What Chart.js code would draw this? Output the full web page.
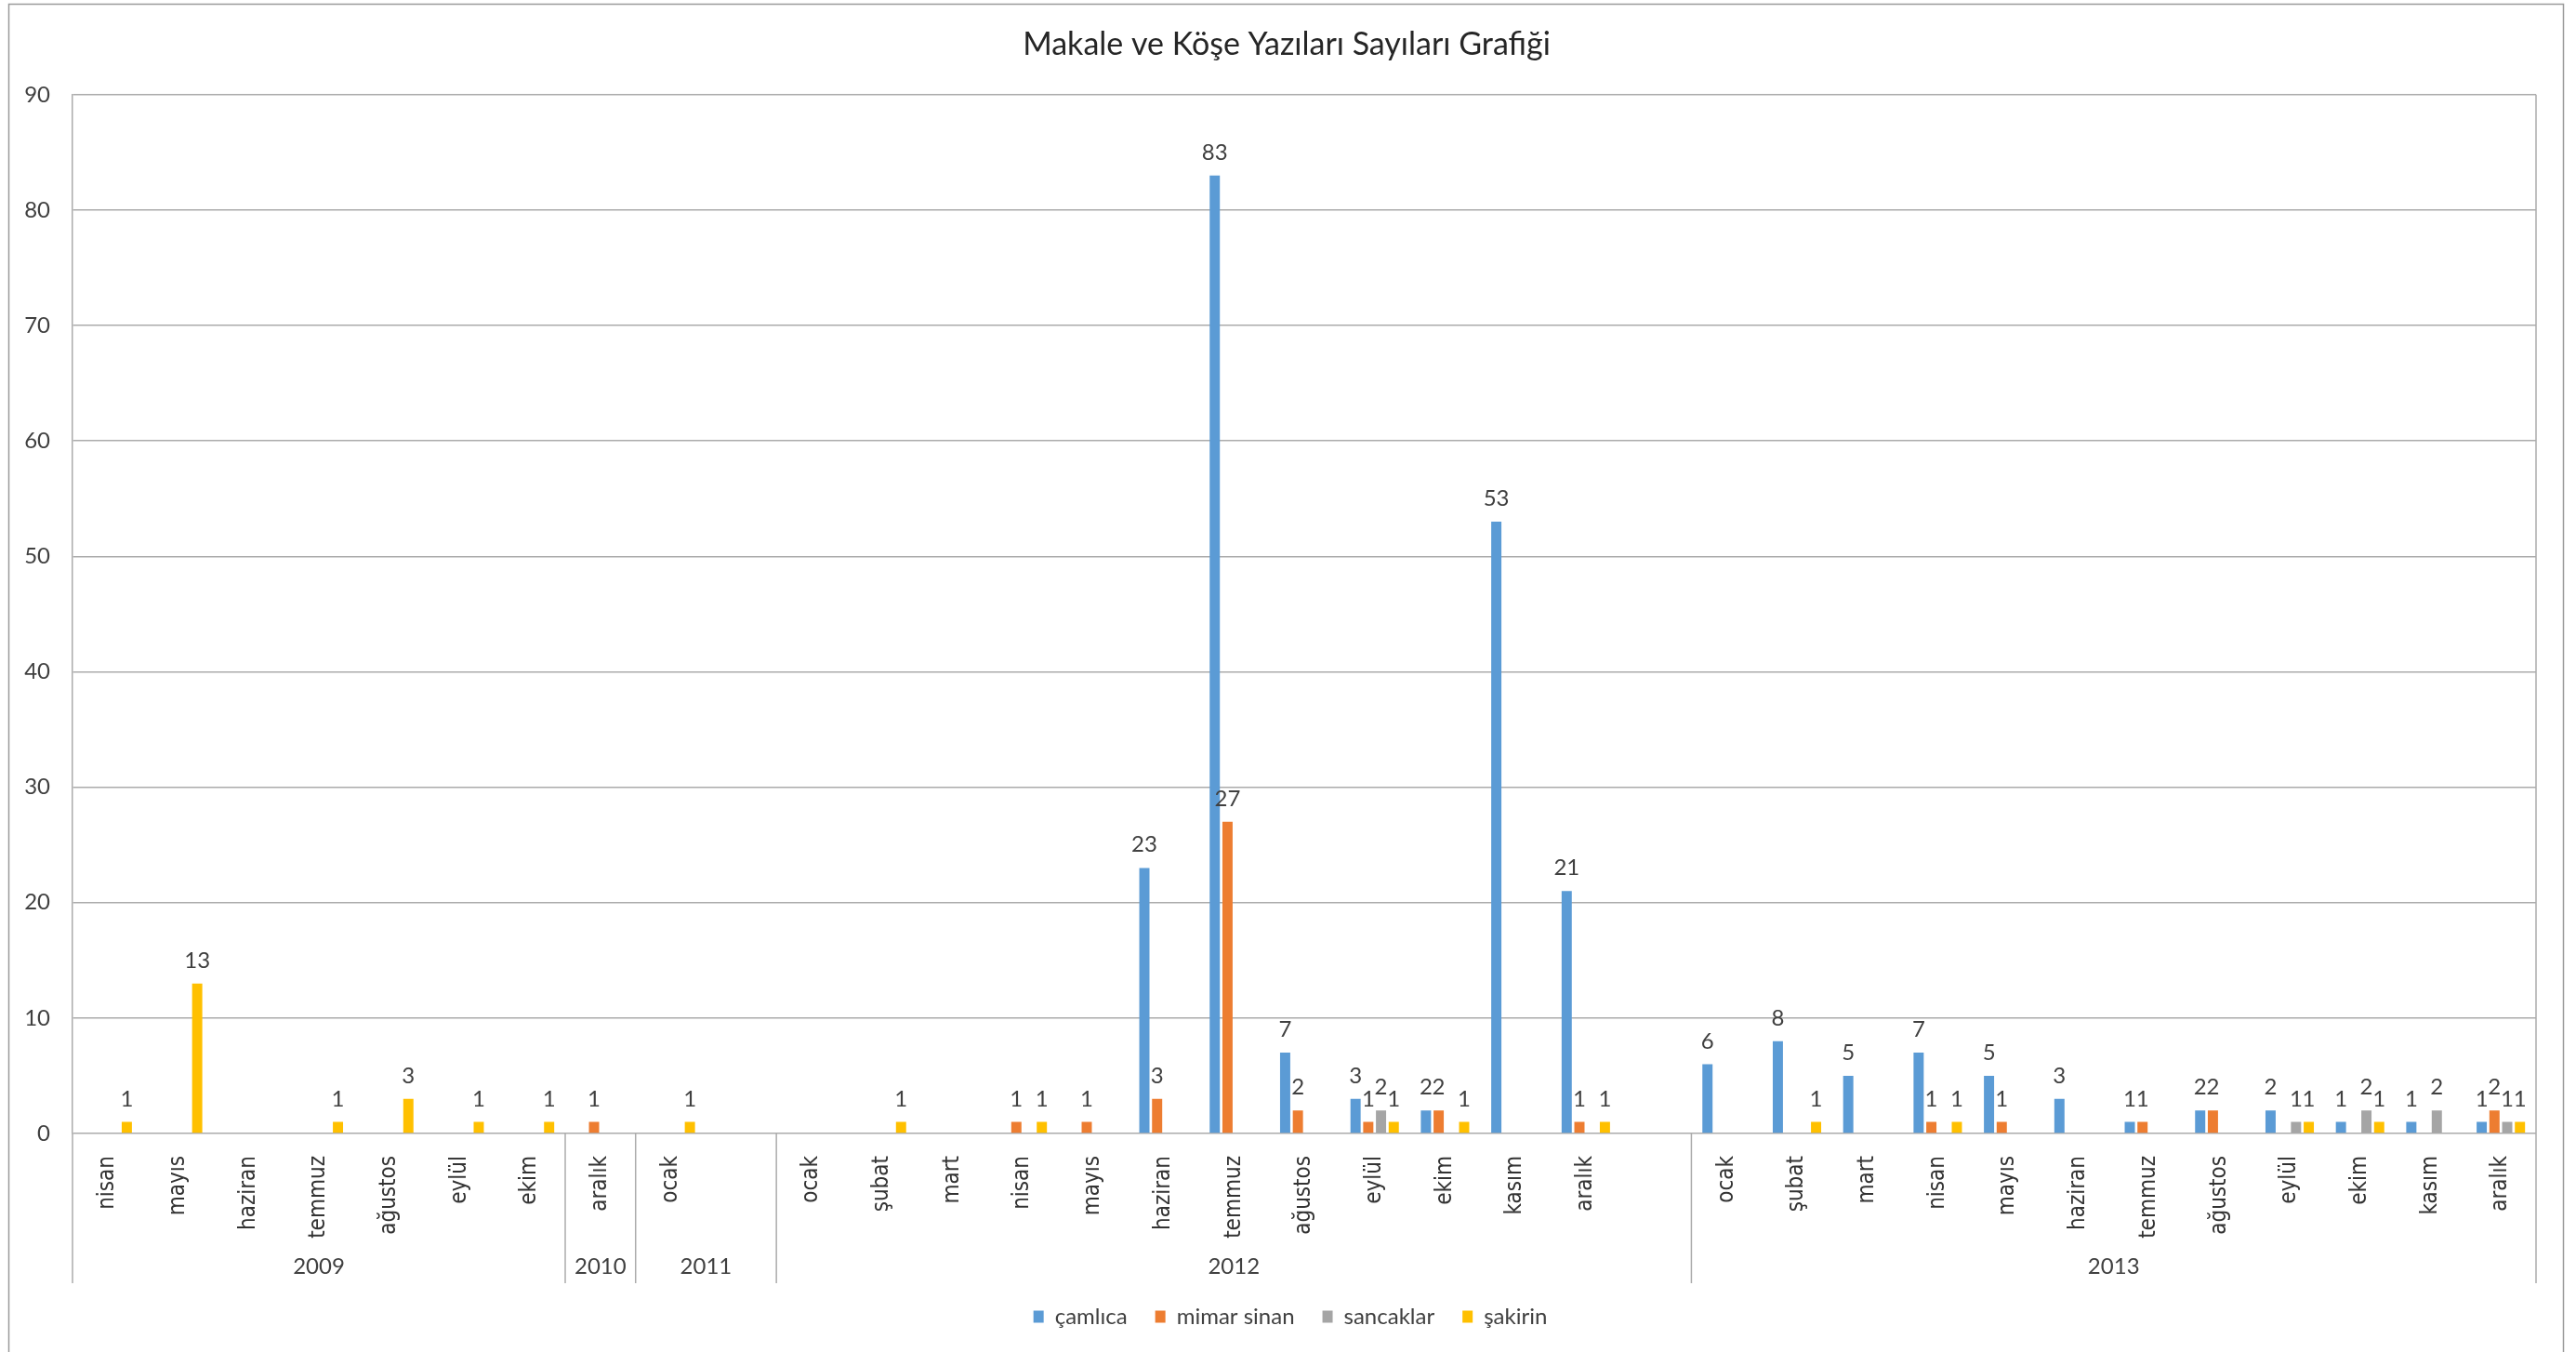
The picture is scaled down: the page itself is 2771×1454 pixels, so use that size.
<!DOCTYPE html>
<html>
<head>
<meta charset="utf-8">
<title>Makale ve Köşe Yazıları Sayıları Grafiği</title>
<script src="https://cdn.jsdelivr.net/npm/chart.js@4.4.1/dist/chart.umd.min.js"></script>
<style>
  html, body { margin: 0; padding: 0; background: #fff; }
</style>
</head>
<body>
<canvas id="makaleChart" width="2771" height="1454"></canvas>
<script>
// month labels, one per category (two empty slots as in the sheet)
const months = [
  'nisan', 'mayıs', 'haziran', 'temmuz', 'ağustos', 'eylül', 'ekim',
  'aralık',
  'ocak', '',
  'ocak', 'şubat', 'mart', 'nisan', 'mayıs', 'haziran', 'temmuz', 'ağustos', 'eylül', 'ekim', 'kasım', 'aralık', '',
  'ocak', 'şubat', 'mart', 'nisan', 'mayıs', 'haziran', 'temmuz', 'ağustos', 'eylül', 'ekim', 'kasım', 'aralık'
]
const years = ['2009', '2010', '2011', '2012', '2013']
const yearSizes = [7, 1, 2, 13, 12]

const camlica = [
  null, null, null, null, null, null, null,
  null,
  null, null,
  null, null, null, null, null, 23, 83, 7, 3, 2, 53, 21, null,
  6, 8, 5, 7, 5, 3, 1, 2, 2, 1, 1, 1
]
const mimarSinan = [
  null, null, null, null, null, null, null,
  1,
  null, null,
  null, null, null, 1, 1, 3, 27, 2, 1, 2, null, 1, null,
  null, null, null, 1, 1, null, 1, 2, null, null, null, 2
]
const sancaklar = [
  null, null, null, null, null, null, null,
  null,
  null, null,
  null, null, null, null, null, null, null, null, 2, null, null, null, null,
  null, null, null, null, null, null, null, null, 1, 2, 2, 1
]
const sakirin = [
  1, 13, null, 1, 3, 1, 1,
  null,
  1, null,
  null, 1, null, 1, null, null, null, null, 1, 1, null, 1, null,
  null, 1, null, 1, null, null, null, null, 1, 1, null, 1
]

const seriesNames = ['çamlıca', 'mimar sinan', 'sancaklar', 'şakirin']
const seriesColors = ['#5B9BD5', '#ED7D31', '#A5A5A5', '#FFC000']
const yTicks = [0, 90, 10]  // min, max, step

const gridColor = '#ababab'
const textColor = '#404040'

const frame = {
  id: 'frame',
  beforeDraw(chart) {
    const ctx = chart.ctx
    ctx.save()
    ctx.fillStyle = '#ffffff'
    ctx.fillRect(0, 0, chart.width, chart.height)
    ctx.strokeStyle = '#9a9a9a'
    ctx.lineWidth = 1.5
    ctx.strokeRect(9.5, 4.5, 2748, 1500)
    ctx.restore()
  },
  afterLayout(chart) {
    // title and legend sit a bit right of centre in the original
    chart.legend.left += 24
    chart.legend.right += 24
    chart.titleBlock.left += 20
    chart.titleBlock.right += 20
  }
}

// second row of the category axis: year names with divider lines
const yearAxis = {
  id: 'yearAxis',
  afterDraw(chart) {
    const x = chart.scales.x
    const area = chart.chartArea
    const ctx = chart.ctx
    const step = (x.right - x.left) / months.length
    const lineBottom = area.bottom + 161

    ctx.save()
    ctx.strokeStyle = gridColor
    ctx.lineWidth = 1.5
    ctx.font = '24px Lato'
    ctx.fillStyle = textColor
    ctx.textAlign = 'center'
    ctx.textBaseline = 'middle'

    ctx.beginPath()
    ctx.moveTo(x.left, area.bottom)
    ctx.lineTo(x.left, lineBottom)
    ctx.stroke()

    let start = 0
    years.forEach(function(year, k) {
      const end = start + yearSizes[k]
      const xe = x.left + end * step
      const top = (k === years.length - 1) ? area.top : area.bottom
      ctx.beginPath()
      ctx.moveTo(xe, top)
      ctx.lineTo(xe, lineBottom)
      ctx.stroke()
      ctx.fillText(year, x.left + (start + end) / 2 * step, area.bottom + 143)
      start = end
    })
    ctx.restore()
  }
}

const valueLabels = {
  id: 'valueLabels',
  afterDatasetsDraw(chart) {
    const ctx = chart.ctx
    ctx.save()
    ctx.font = '24px Lato'
    ctx.fillStyle = textColor
    ctx.textAlign = 'center'
    ctx.textBaseline = 'alphabetic'
    chart.data.datasets.forEach(function(ds, i) {
      chart.getDatasetMeta(i).data.forEach(function(bar, j) {
        const v = ds.data[j]
        if (v === null) return
        ctx.fillText(String(v), bar.x, bar.y - 17)
      })
    })
    ctx.restore()
  }
}

const seriesData = [camlica, mimarSinan, sancaklar, sakirin]

new Chart(document.getElementById('makaleChart'), {
  type: 'bar',
  data: {
    labels: months,
    datasets: seriesData.map(function(values, i) {
      return {
        label: seriesNames[i],
        data: values,
        backgroundColor: seriesColors[i],
        borderWidth: 0,
        categoryPercentage: 0.724,
        barPercentage: 0.8
      }
    })
  },
  options: {
    responsive: false,
    animation: false,
    devicePixelRatio: 1,
    layout: { padding: { left: 0, right: 43, top: 0, bottom: 16 } },
    plugins: {
      title: {
        display: true,
        text: 'Makale ve Köşe Yazıları Sayıları Grafiği',
        color: '#262626',
        font: { family: 'Lato', size: 34, weight: 'normal' },
        padding: { top: 28, bottom: 33 }
      },
      legend: {
        position: 'bottom',
        labels: {
          color: textColor,
          font: { family: 'Lato', size: 24 },
          boxWidth: 11,
          boxHeight: 13,
          padding: 30
        }
      },
      tooltip: { enabled: false }
    },
    scales: {
      x: {
        grid: { display: false },
        border: { display: false },
        ticks: {
          color: '#333333',
          font: { family: 'DejaVu Sans Condensed', size: 24 },
          minRotation: 90,
          maxRotation: 90,
          autoSkip: false,
          padding: 16
        },
        afterFit: function(scale) { scale.height = 155 }
      },
      y: {
        min: yTicks[0],
        max: yTicks[1],
        ticks: {
          stepSize: yTicks[2],
          color: textColor,
          font: { family: 'Lato', size: 24 },
          padding: 24
        },
        grid: { color: gridColor, lineWidth: 1.5, drawTicks: false },
        border: { display: true, color: gridColor, width: 1.5 },
        afterFit: function(scale) { scale.width = 78 }
      }
    }
  },
  plugins: [frame, yearAxis, valueLabels]
})
</script>
</body>
</html>
